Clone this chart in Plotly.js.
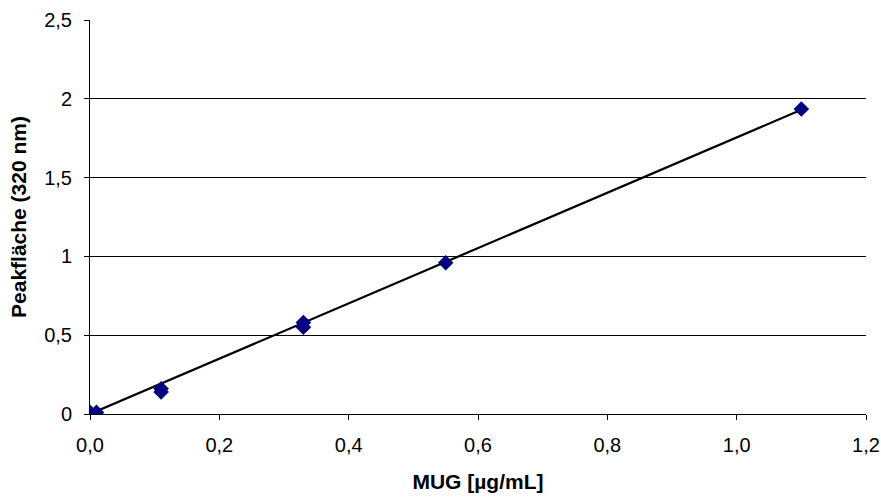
<!DOCTYPE html>
<html><head><meta charset="utf-8">
<script src="https://cdn.plot.ly/plotly-3.0.1.min.js"></script>
<style>html,body{margin:0;padding:0;background:#fff}#c{width:881px;height:497px}</style>
</head><body><div id="c"></div>
<script>
const conc = [0.0, 0.01, 0.11, 0.11, 0.33, 0.33, 0.55, 1.1];
const area = [0.01, 0.01, 0.16, 0.14, 0.58, 0.55, 0.96, 1.935];
const trendX = [0.0, 1.1];
const trendY = [0.0, 1.93];
const xTicks = [0, 0.2, 0.4, 0.6, 0.8, 1.0, 1.2];
const yTicks = [0, 0.5, 1, 1.5, 2, 2.5];

const font = {family: 'Liberation Sans, Arial, sans-serif', size: 20, color: '#000'};
const tfont = {family: 'Liberation Sans, Arial, sans-serif', size: 21, color: '#000'};
Plotly.newPlot('c', [
  {x: trendX, y: trendY, mode: 'lines', line: {color: '#000', width: 2.2}, hoverinfo: 'skip'},
  {x: conc, y: area, mode: 'markers', marker: {symbol: 'diamond', size: 12, color: '#000080'}}
], {
  width: 881, height: 497, showlegend: false,
  separators: ',.',
  paper_bgcolor: '#fff', plot_bgcolor: '#fff',
  margin: {l: 90, r: 15, t: 20, b: 83},
  font: font,
  xaxis: {range: [0, 1.2], tickvals: xTicks, tickformat: '.1f', showgrid: false, zeroline: false,
    showline: true, linecolor: '#000', linewidth: 1, ticks: 'outside', ticklen: 5, tickcolor: '#000',
    ticklabelstandoff: 8,
    tickfont: font, title: {text: '<b>MUG [µg/mL]</b>', font: tfont, standoff: 19}},
  yaxis: {range: [0, 2.5], tickvals: yTicks, showgrid: true, gridcolor: '#000', gridwidth: 1, zeroline: false,
    showline: true, linecolor: '#000', linewidth: 1, ticks: 'outside', ticklen: 5, tickcolor: '#000',
    ticklabelstandoff: 8,
    tickfont: font, title: {text: '<b>Peakfläche (320 nm)</b>', font: tfont, standoff: 11}}
}, {displayModeBar: false});
</script></body></html>
